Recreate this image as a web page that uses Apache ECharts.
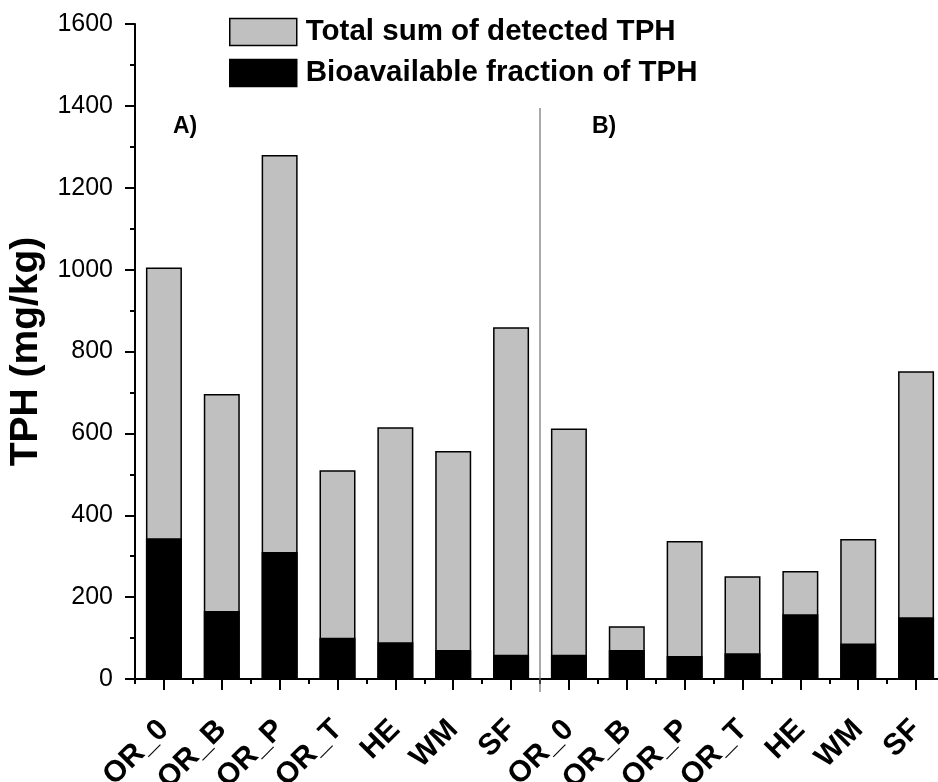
<!DOCTYPE html>
<html>
<head>
<meta charset="utf-8">
<script src="https://cdn.jsdelivr.net/npm/echarts@6/dist/echarts.min.js"></script>
<style>html,body{margin:0;padding:0;background:#fff}#c{width:938px;height:782px}</style>
</head>
<body>
<div id="c"></div>
<script>
// ---- data ----
var groupCats = ['OR_0', 'OR_B', 'OR_P', 'OR_T', 'HE', 'WM', 'SF'];
var categories = groupCats.concat(groupCats);
var totalA = [1005, 696, 1280, 510, 615, 557, 859];
var bioA   = [344, 166, 310, 101, 90, 71, 59];
var totalB = [612, 129, 337, 251, 264, 342, 752];
var bioB   = [59, 71, 56, 63, 158, 87, 151];
var totalTPH = totalA.concat(totalB);
var bioTPH = bioA.concat(bioB);
var yTicks = [0, 200, 400, 600, 800, 1000, 1200, 1400, 1600];
var panelLabels = ['A)', 'B)'];
var seriesNames = ['Total sum of detected TPH', 'Bioavailable fraction of TPH'];

var FONT = '"Liberation Sans", Arial, sans-serif';
var chart = echarts.init(document.getElementById('c'), null, {renderer: 'canvas'});

var option = {
  animation: false,
  backgroundColor: '#fff',
  grid: {left: 135, right: -7, top: 24, bottom: 103, containLabel: false, outerBoundsMode: 'none'},
  legend: {
    left: 229, top: 17, orient: 'vertical', padding: 0,
    itemWidth: 67, itemHeight: 27, itemGap: 11,
    icon: 'rect',
    data: seriesNames,
    textStyle: {fontFamily: FONT, fontWeight: 'bold', fontSize: 29.5, lineHeight: 27, color: '#000', padding: [0, 0, 0, 4]},
    itemStyle: {borderColor: '#000', borderWidth: 1.5}
  },
  xAxis: [
    {
      type: 'category', data: categories, boundaryGap: true,
      axisLine: {lineStyle: {color: '#000', width: 2}},
      axisTick: {show: true, alignWithLabel: false, length: 5, lineStyle: {color: '#000', width: 2}},
      axisLabel: {
        interval: 0, rotate: 45, margin: 46,
        fontFamily: FONT, fontWeight: 'bold', fontSize: 30, color: '#000'
      },
      splitLine: {show: false}
    },
    {
      type: 'category', data: categories, boundaryGap: true, position: 'bottom',
      axisLine: {show: false},
      axisTick: {show: true, alignWithLabel: true, length: 11, lineStyle: {color: '#000', width: 2}},
      axisLabel: {show: false},
      splitLine: {show: false}
    },
    {
      type: 'value', min: 0, max: categories.length, show: false
    }
  ],
  yAxis: {
    type: 'value', min: yTicks[0], max: yTicks[yTicks.length - 1], interval: yTicks[1] - yTicks[0],
    name: 'TPH (mg/kg)', nameLocation: 'middle', nameGap: 89,
    nameTextStyle: {fontFamily: FONT, fontWeight: 'bold', fontSize: 39, color: '#000'},
    axisLine: {show: true, lineStyle: {color: '#000', width: 2}},
    axisTick: {show: true, length: 10, lineStyle: {color: '#000', width: 2}},
    minorTick: {show: true, splitNumber: 2, length: 5, lineStyle: {color: '#000', width: 2}},
    axisLabel: {margin: 22, fontFamily: FONT, fontSize: 25, color: '#000', formatter: function (v) { return String(v); }},
    splitLine: {show: false}
  },
  series: [
    {
      name: seriesNames[0], type: 'bar', xAxisIndex: 0, data: totalTPH,
      barWidth: 36, barGap: '-100%',
      itemStyle: {color: '#C0C0C0', borderColor: '#000', borderWidth: 1.5}
    },
    {
      name: seriesNames[1], type: 'bar', xAxisIndex: 0, data: bioTPH,
      barWidth: 36, barGap: '-100%',
      itemStyle: {color: '#000', borderColor: '#000', borderWidth: 1.5}
    },
    {
      name: 'divider', type: 'line', xAxisIndex: 2, clip: false, silent: true,
      symbol: 'none',
      data: [[groupCats.length, 1395], [groupCats.length, -32]],
      lineStyle: {color: '#707070', width: 1.2}
    }
  ],
  graphic: [
    {type: 'text', left: 173, top: 115, style: {text: panelLabels[0], font: 'bold 23px ' + FONT, fill: '#000'}},
    {type: 'text', left: 592, top: 115, style: {text: panelLabels[1], font: 'bold 23px ' + FONT, fill: '#000'}}
  ]
};
chart.setOption(option);
</script>
</body>
</html>
